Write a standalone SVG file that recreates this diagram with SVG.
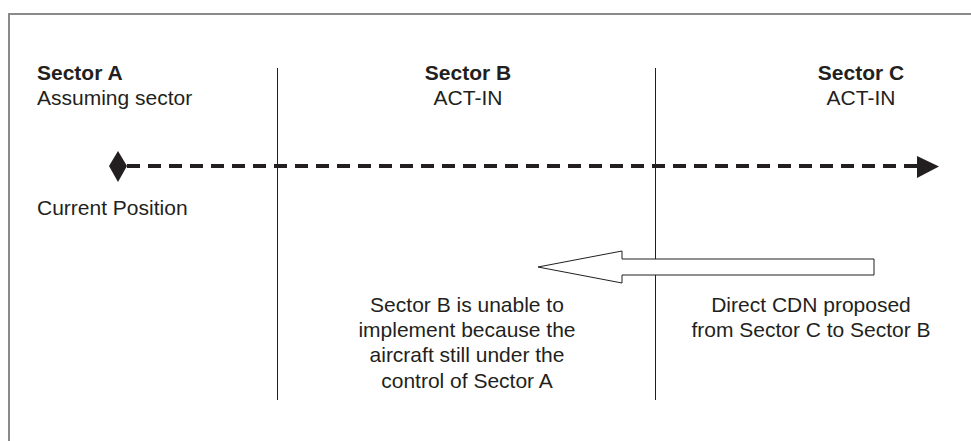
<svg xmlns="http://www.w3.org/2000/svg" width="971" height="441" viewBox="0 0 971 441">
  <style>
    .t { font-family: "Liberation Sans", Arial, sans-serif; font-size: 21px; fill: #231f20; }
    .b { font-weight: bold; }
    .m { text-anchor: middle; }
    .div { stroke: #231f20; stroke-width: 1; }
  </style>
  <rect width="971" height="441" fill="#ffffff"/>
  <!-- outer frame (top and left edges) -->
  <path d="M9,441 V14 H971" fill="none" stroke="#8a8a8a" stroke-width="2"/>

  <!-- sector boundaries -->
  <g id="boundaries">
    <line class="div" x1="277.5" y1="68" x2="277.5" y2="400"/>
    <line class="div" x1="655.5" y1="68" x2="655.5" y2="400"/>
  </g>

  <g id="sector-a">
    <text class="t b" x="37" y="80">Sector A</text>
    <text class="t" x="37" y="105">Assuming sector</text>
  </g>
  <g id="sector-b">
    <text class="t b m" x="468" y="80">Sector B</text>
    <text class="t m" x="468" y="105">ACT-IN</text>
  </g>
  <g id="sector-c">
    <text class="t b m" x="861" y="80">Sector C</text>
    <text class="t m" x="861" y="105">ACT-IN</text>
  </g>

  <g id="current-position">
    <polygon points="118,151 127,166 118,182 109,166" fill="#231f20"/>
    <text class="t" x="37" y="215">Current Position</text>
  </g>

  <g id="connectors">
    <!-- planned route -->
    <line x1="127" y1="166" x2="918" y2="166" stroke="#231f20" stroke-width="4" stroke-dasharray="13,8"/>
    <polygon points="917,156 939,166.5 917,178" fill="#231f20"/>
    <!-- direct CDN block arrow -->
    <polygon points="874,259 622,259 622,251 538,267 622,283 622,275 874,275" fill="#ffffff" stroke="#231f20" stroke-width="1"/>
  </g>

  <g id="note-b">
    <text class="t m" x="467" y="312">Sector B is unable to</text>
    <text class="t m" x="467" y="337">implement because the</text>
    <text class="t m" x="467" y="362">aircraft still under the</text>
    <text class="t m" x="467" y="388">control of Sector A</text>
  </g>
  <g id="note-c">
    <text class="t m" x="811" y="312">Direct CDN proposed</text>
    <text class="t m" x="811" y="337">from Sector C to Sector B</text>
  </g>
</svg>
